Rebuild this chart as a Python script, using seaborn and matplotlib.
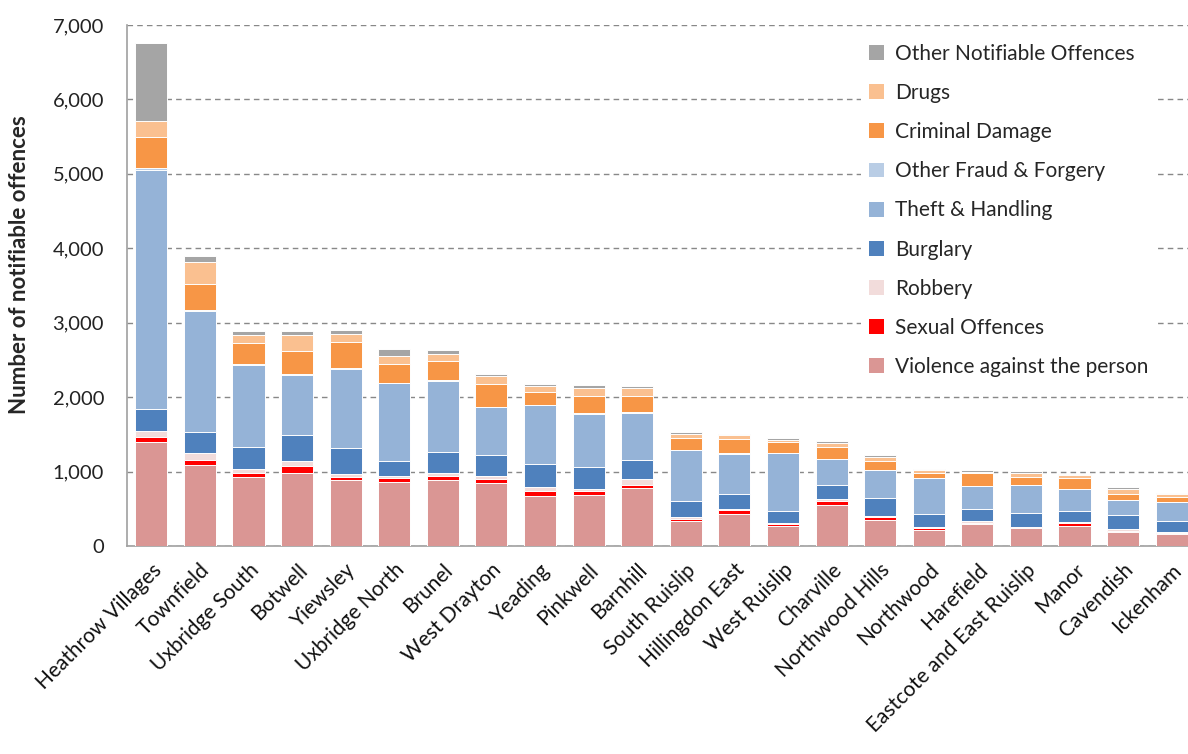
import matplotlib
matplotlib.use("Agg")
import matplotlib.pyplot as plt
from matplotlib.patches import Patch
from matplotlib.ticker import FuncFormatter, FixedLocator
import numpy as np
import pandas as pd
import seaborn as sns

# Notifiable offences by ward
wards = ["Heathrow Villages", "Townfield", "Uxbridge South", "Botwell", "Yiewsley",
         "Uxbridge North", "Brunel", "West Drayton", "Yeading", "Pinkwell", "Barnhill",
         "South Ruislip", "Hillingdon East", "West Ruislip", "Charville", "Northwood Hills",
         "Northwood", "Harefield", "Eastcote and East Ruislip", "Manor", "Cavendish", "Ickenham"]

violence = [1400, 1090, 925, 980, 890, 855, 890, 840, 675, 690, 780, 340, 430, 270, 545, 350, 215, 295, 245, 270, 185, 160]
sexual = [70, 70, 60, 90, 40, 55, 55, 60, 65, 45, 35, 25, 50, 25, 60, 35, 30, 18, 5, 40, 20, 20]
robbery = [80, 90, 55, 75, 35, 35, 40, 45, 50, 30, 90, 20, 15, 15, 30, 15, 15, 18, 10, 10, 18, 5]
burglary = [290, 280, 285, 345, 345, 200, 275, 280, 310, 290, 245, 215, 200, 165, 185, 250, 175, 165, 180, 145, 200, 145]
theft = [3210, 1630, 1110, 805, 1065, 1040, 960, 640, 790, 725, 640, 685, 545, 775, 345, 365, 475, 305, 375, 300, 195, 255]
fraud = [25, 10, 10, 10, 20, 10, 10, 8, 8, 8, 5, 5, 5, 5, 5, 5, 5, 5, 5, 5, 5, 5]
damage = [420, 345, 285, 315, 340, 250, 250, 300, 175, 230, 220, 165, 195, 140, 160, 125, 70, 180, 110, 145, 75, 75]
drugs = [220, 305, 110, 215, 110, 105, 105, 110, 75, 110, 110, 55, 50, 35, 50, 55, 35, 10, 55, 35, 70, 30]
other = [1040, 75, 50, 55, 55, 95, 55, 30, 30, 30, 30, 20, 20, 20, 25, 20, 18, 25, 20, 20, 18, 20]

# stacking order, bottom to top
series_names = ["Violence against the person", "Sexual Offences", "Robbery", "Burglary",
                "Theft & Handling", "Other Fraud & Forgery", "Criminal Damage", "Drugs",
                "Other Notifiable Offences"]
series_values = [violence, sexual, robbery, burglary, theft, fraud, damage, drugs, other]
series_colors = ["#da9694", "#ff0000", "#f2dcdb", "#4f81bd", "#95b3d7", "#b9cde5",
                 "#f79646", "#fac090", "#a5a5a5"]

df = pd.DataFrame({name: vals for name, vals in zip(series_names, series_values)})
df.insert(0, "Ward", wards)
cum = df[series_names].cumsum(axis=1)

sns.set_style("white")
plt.rcParams["font.family"] = ["Lato", "DejaVu Sans"]

fig = plt.figure(figsize=(11.88, 7.54), dpi=100)
W, H = 1188, 754
ax = fig.add_axes([127 / W, (H - 546) / H, 1069 / W, 521 / H])

# draw cumulative totals from the top layer down so each layer sits on the one below
for name, color in reversed(list(zip(series_names, series_colors))):
    sns.barplot(x=df["Ward"], y=cum[name], color=color, saturation=1, width=0.66,
                edgecolor="white", linewidth=0.7, ax=ax, order=wards, zorder=3)

ax.set_xlim(-0.5, len(wards) - 0.5)
ax.set_ylim(0, 7000)
ax.set_yticks(np.arange(0, 7001, 1000))
ax.yaxis.set_major_formatter(FuncFormatter(lambda v, p: f"{int(v):,}"))
ax.grid(axis="y", color="#888888", linestyle=(0, (4, 3)), linewidth=1.0, zorder=0)
ax.set_axisbelow(True)

for side in ["top", "right"]:
    ax.spines[side].set_visible(False)
for side in ["left", "bottom"]:
    ax.spines[side].set_color("#a0a0a0")
    ax.spines[side].set_linewidth(1.2)

ax.tick_params(axis="y", which="major", length=6.5, color="#a0a0a0", width=1.2,
               labelsize=14.5, labelcolor="#222222", pad=10)
ax.tick_params(axis="x", which="major", length=0, labelsize=15, labelcolor="#111111", pad=10)
ax.xaxis.set_minor_locator(FixedLocator(np.arange(-0.5, len(wards), 1.0)))
ax.tick_params(axis="x", which="minor", length=8, color="#a0a0a0", width=1.2)
ax.set_xticks(range(len(wards)))
ax.set_xticklabels(wards, rotation=45, ha="right", rotation_mode="anchor")
ax.set_xlabel("")
ax.set_ylabel("Number of notifiable offences", fontsize=16, fontweight="bold")
ax.yaxis.set_label_coords(-0.091, 0.54)

handles = [Patch(facecolor=c, edgecolor="none", label=n)
           for n, c in zip(series_names, series_colors)][::-1]
leg = ax.legend(handles=handles, loc="upper left", bbox_to_anchor=(0.677, 1.0),
                frameon=True, facecolor="white", edgecolor="none", framealpha=1,
                fancybox=False, fontsize=15, handlelength=0.72, handleheight=0.72,
                handletextpad=0.5, labelspacing=0.92, borderpad=0.4)
leg.set_zorder(5)

fig.savefig("out.png", dpi=100)
